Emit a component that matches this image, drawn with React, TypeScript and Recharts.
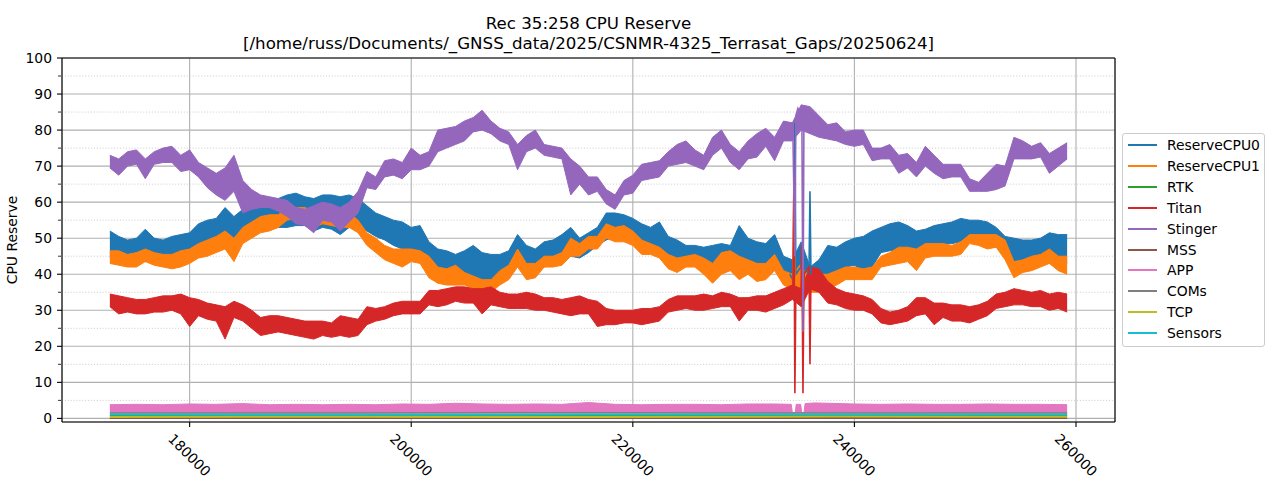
import React from 'react';
import { ComposedChart, Area, Line, XAxis, YAxis, CartesianGrid } from 'recharts';

const FONT = '"DejaVu Sans", "Liberation Sans", sans-serif';

const seriesNames = ['ReserveCPU0', 'ReserveCPU1', 'RTK', 'Titan', 'Stinger', 'MSS', 'APP', 'COMs', 'TCP', 'Sensors'];
const seriesColors = ['#1f77b4', '#ff7f0e', '#2ca02c', '#d62728', '#9467bd', '#8c564b', '#e377c2', '#7f7f7f', '#bcbd22', '#17becf'];

const titleLines = ['Rec 35:258 CPU Reserve', '[/home/russ/Documents/_GNSS_data/2025/CSNMR-4325_Terrasat_Gaps/20250624]'];
const yLabel = 'CPU Reserve';

const xTicks = [180000, 200000, 220000, 240000, 260000];
const yTicks = [0, 10, 20, 30, 40, 50, 60, 70, 80, 90, 100];
const yMinorTicks = [5, 15, 25, 35, 45, 55, 65, 75, 85, 95];

// sample grid of the noisy series (seconds of week)
const sampleStart = 172800;
const sampleStep = 800;

const cpu0Low = [
  44.5, 44, 44.5, 44, 43.5, 44, 43.5, 44, 43.5, 45,
  46, 47, 47.5, 48, 46, 50, 51, 52, 52.5, 53,
  53, 53.5, 53.5, 52, 53, 52.5, 51, 53, 53, 52,
  50.5, 49.5, 48, 47, 47, 46.5, 43, 40.5, 40, 40,
  39.5, 39, 38.5, 38, 39, 39.5, 44, 41, 41, 42,
  43, 43, 45, 44.5, 46, 48, 49.5, 50.5, 50, 49,
  47.5, 47, 46, 44, 43, 43, 42.5, 42, 42, 41,
  42, 43, 42, 41.5, 41, 42, 38, 37, 36, 35,
  36, 40, 41, 42, 42.5, 41, 42, 46, 46.5, 47,
  46.5, 46, 47, 48, 48.5, 48.5, 49, 49, 49, 49,
  47.5, 45, 42, 43, 43, 43, 43, 42, 43,
];
const cpu0High = [
  52, 50.5, 49.5, 50, 52.5, 50, 49.5, 50.5, 51, 51.5,
  54, 55, 55.5, 58.5, 56, 58, 60, 59.5, 60.5, 61,
  62, 62.5, 61.5, 61, 62, 62, 61.5, 62, 61, 59,
  57, 56, 55, 54.5, 53, 53.5, 49, 47, 46.5, 45.5,
  46.5, 48, 46, 45.5, 45.5, 46.5, 51, 48, 47, 49,
  49.5, 51, 53, 50, 51.5, 53, 57, 57, 56.5, 55.5,
  54, 53, 54.5, 50.5, 49.5, 48, 48, 47.5, 48, 48.5,
  48, 53.5, 50, 49, 48.5, 51, 45, 44, 49, 42,
  44, 48, 47.5, 49, 50, 50.5, 52, 53, 54, 54.5,
  53.5, 52, 52.5, 53.5, 54, 54.5, 55.5, 55, 55, 54.5,
  53, 50.5, 50, 49.5, 49.5, 50, 51.5, 51, 51,
];
const cpu1Low = [
  43, 42.5, 42, 42, 43.5, 42.5, 42, 41.5, 42, 43,
  44.5, 45, 46, 47, 43.5, 48.5, 50, 51.5, 52, 53,
  55, 55.5, 55.5, 53, 54, 53.5, 53, 53, 51.5, 48,
  46, 44, 43, 42, 43.5, 43, 39, 37.5, 37, 37,
  37, 36, 35.5, 35, 37, 38.5, 42, 38.5, 39, 42,
  42, 42.5, 45, 45, 47, 47, 50, 49, 49, 48,
  45.5, 45.5, 44.5, 41.5, 40.5, 42, 42, 40, 37.5, 40,
  41, 38.5, 40, 38, 38.5, 41, 37, 36, 34, 35,
  35, 36, 37, 38.5, 38.5, 38.5, 38.5, 42, 42.5, 43,
  43.5, 41, 44.5, 45, 45, 45, 45.5, 48.5, 48, 47,
  47.5, 44, 39, 40.5, 41, 42, 43, 41, 40,
];
const cpu1High = [
  46.5, 46.5, 45.5, 46, 47, 46, 45.5, 45.5, 46.5, 47,
  48.5, 49.5, 50.5, 52, 50, 53, 54.5, 56, 56.5, 56.5,
  58.5, 58.5, 58.5, 57.5, 57.5, 57.5, 57, 57, 55, 51.5,
  50, 48, 47, 47, 47, 46.5, 45, 42, 41.5, 42.5,
  40.5, 39.5, 38.5, 38.5, 41, 42.5, 47, 43, 43, 45,
  45, 46, 50, 48.5, 50.5, 50.5, 54, 53, 53.5, 52,
  49.5, 48.5, 47.5, 45.5, 44.5, 45, 45.5, 44.5, 43, 46,
  46.5, 45, 44, 43, 43, 45.5, 41, 40, 43, 40,
  40, 40, 41, 42, 42, 41.5, 42, 45, 46, 47.5,
  47.5, 47, 48.5, 48.5, 48.5, 48, 49, 51, 51, 51,
  51, 49.5, 43.5, 44, 45, 45.5, 47, 45, 45,
];
const titanLow = [
  31, 29, 29.5, 29, 29, 29.5, 29.5, 30, 29, 25.5,
  28.5, 27.5, 27, 22, 28, 27, 25, 23, 23.5, 24,
  23.5, 23, 22.5, 22, 23, 22.5, 23, 22.5, 23, 26,
  27, 27.5, 28.5, 29, 29, 29, 31.5, 31, 31.5, 32.5,
  32, 32, 29, 31.5, 31, 30.5, 30.5, 30.5, 30, 30,
  29.5, 29, 28.5, 29, 29, 25.5, 26, 26, 26.5, 26.5,
  26, 26.5, 27, 29.5, 30, 30.5, 30, 30, 30.5, 31,
  31, 27, 30, 30, 29.5, 30.5, 31.5, 33, 31, 36,
  35, 32, 31.5, 30.5, 30, 30, 29, 26.5, 26, 26.5,
  27, 28.5, 29, 26, 28, 27, 27, 26.5, 27.5, 28.5,
  30.5, 31, 31.5, 31.5, 31, 31, 30, 30.5, 29.5,
];
const titanHigh = [
  34.5, 34, 33.5, 33, 33, 33.5, 34, 34, 34.5, 33.5,
  33, 32, 31.5, 31, 32.5, 31.5, 30, 28, 28.5, 28.5,
  28, 27.5, 27, 27, 27, 26.5, 28.5, 28, 27.5, 31,
  30.5, 31, 32, 32.5, 32.5, 32.5, 35.5, 35.5, 36, 36.5,
  36.5, 36, 36, 36.5, 35, 34.5, 34.5, 35, 34.5, 33.5,
  33.5, 33, 33.5, 34, 33, 32.5, 30.5, 30, 30, 30,
  30.5, 30.5, 31, 33, 34, 34, 34, 34.5, 34, 35,
  34.5, 33.5, 33.5, 34, 34, 35, 36, 37, 36, 42,
  41.5, 38, 36, 35, 34.5, 34, 33, 30.5, 29.5, 30,
  31, 33.5, 33.5, 32, 32, 31.5, 31.5, 31, 31.5, 32.5,
  34.5, 35, 36, 35.5, 35, 35.5, 34.5, 35, 34.5,
];
const stingerLow = [
  69.5, 67.5, 70, 70.5, 66.5, 70.5, 71, 71, 68.5, 69,
  67, 64, 62, 60.5, 63, 57, 58, 58.5, 58.5, 57.5,
  56, 54, 53.5, 51.5, 55, 54.5, 52, 54.5, 57, 64,
  63.5, 67, 67.5, 66.5, 69, 69, 70, 74, 75, 76,
  77, 79.5, 80, 79, 77, 76, 69, 74, 75, 73,
  72.5, 72, 62, 65, 62, 63, 59.5, 58, 62, 62.5,
  66, 66.5, 67, 70, 70.5, 71, 70, 69, 73, 75,
  71, 69, 72, 72.5, 75.5, 71.5, 77, 77, 80, 79,
  78, 77.5, 77, 76, 75.5, 76, 71.5, 72, 72, 68,
  69.5, 67, 70, 68, 66.5, 67, 67, 63, 63, 63,
  63.5, 64.5, 72, 72, 72, 72.5, 68, 70, 72,
];
const stingerHigh = [
  73, 72, 74, 74.5, 72, 74, 75, 75.5, 73, 74.5,
  71, 69.5, 68, 69.5, 73, 66, 63.5, 62, 61.5, 61,
  60.5, 58.5, 58, 59, 60, 59.5, 58.5, 60, 63, 68.5,
  67, 71.5, 72, 71, 75, 73, 74, 80, 80.5, 81,
  82.5, 83.5, 85.5, 82.5, 80.5, 79.5, 76, 78.5, 80, 76,
  75.5, 75, 72, 70, 67, 67, 63.5, 62, 66, 67.5,
  70.5, 71, 71.5, 74, 76, 77, 74.5, 73, 78, 80,
  76, 74, 77, 79, 80.5, 78, 82.5, 82, 87, 86.5,
  84, 81.5, 82, 79.5, 80, 80, 75, 75, 76, 73,
  73.5, 71, 75.5, 73, 70.5, 70.5, 70.5, 66.5, 65.5, 68,
  70.5, 70, 78, 77, 75.5, 76.5, 73.5, 75, 76.5,
];

// excursions around the disturbance near 235000
const cpu0SpikeT = [234174, 234535, 234626, 234716, 235167, 235257, 235357, 235447, 235899, 235990, 236080];
const cpu0SpikeV = [40, 38, 82, 40, 42, 47, 25, 42, 40, 63, 40];
const cpu1SpikeT = [234445, 234535, 234626, 235257, 235357, 235447];
const cpu1SpikeV = [38, 63, 37, 40, 31, 39];
const titanSpikeT = [234445, 234535, 234626, 234716, 235167, 235257, 235357, 235447, 235899, 235990, 236080];
const titanSpikeV = [35, 66, 7, 36, 34, 48, 7, 40, 42, 15, 40];
const stingerSpikeT = [234445, 234626, 234716, 234900, 235257, 235357, 235447];
const stingerSpikeV = [80, 45, 84, 86, 84, 24, 85];

// low-level series
const appT = [
  172800, 175200, 177600, 180000, 182400, 184800, 187200, 189600, 192000, 194400,
  196800, 199200, 201600, 204000, 206400, 208800, 211200, 213600, 216000, 218400,
  220800, 223200, 225600, 228000, 230400, 232800, 234300, 234400, 234650, 234750,
  235150, 235250, 235450, 235550, 236400, 237600, 240000, 242400, 244800, 247200,
  249600, 252000, 254400, 256800, 259200,
];
const appHigh = [
  3.8, 3.9, 3.8, 4.0, 3.9, 4.1, 3.8, 3.9, 3.8, 3.9,
  3.8, 4.0, 3.9, 4.2, 4.0, 3.9, 4.0, 3.9, 4.4, 3.9,
  3.8, 3.9, 3.9, 3.8, 4.0, 4.0, 3.9, 1.6, 1.6, 3.9,
  3.9, 1.6, 1.6, 4.1, 4.3, 4.2, 4.0, 3.9, 4.0, 3.9,
  3.9, 4.0, 3.9, 3.9, 3.8,
];
const appLow = [
  1.5, 1.5, 1.5, 1.5, 1.5, 1.5, 1.5, 1.5, 1.5, 1.5,
  1.5, 1.5, 1.5, 1.5, 1.5, 1.5, 1.5, 1.5, 1.5, 1.5,
  1.5, 1.5, 1.5, 1.5, 1.5, 1.5, 1.5, 1.4, 1.4, 1.5,
  1.5, 1.4, 1.4, 1.5, 1.5, 1.5, 1.5, 1.5, 1.5, 1.5,
  1.5, 1.5, 1.5, 1.5, 1.5,
];
const lowT = [172800, 194400, 216000, 237600, 259200];
const rtkV = [0.7, 0.7, 0.7, 0.7, 0.7];
const mssV = [0.1, 0.1, 0.1, 0.1, 0.1];
const comsV = [1.5, 1.5, 1.55, 1.5, 1.5];
const tcpV = [0.4, 0.45, 0.4, 0.5, 0.45];
const sensorsV = [1.05, 1.0, 1.05, 1.1, 1.05];

const mainData = cpu0Low.map((_, i) => ({
  t: sampleStart + i * sampleStep,
  cpu0: [cpu0Low[i], cpu0High[i]],
  cpu1: [cpu1Low[i], cpu1High[i]],
  titan: [titanLow[i], titanHigh[i]],
  stinger: [stingerLow[i], stingerHigh[i]],
}));

const pairs = (ts: number[], vs: number[]) => ts.map((t, i) => ({ t, v: vs[i] }));
const appData = appT.map((t, i) => ({ t, v: [appLow[i], appHigh[i]] }));

const X_DOMAIN: [number, number] = [168480, 263520];
const Y_DOMAIN: [number, number] = [-1, 100];

const EmptyTick = () => <g />;

const XTick = (props: any) => {
  const { x, y, payload } = props;
  return (
    <text
      transform={`translate(${x},${y + 26}) rotate(45)`}
      textAnchor="middle"
      dominantBaseline="central"
      fontSize={13.9}
      fontFamily={FONT}
      fill="#000"
    >
      {payload.value}
    </text>
  );
};

const bandProps = (color: string) => ({
  type: 'linear' as const,
  stroke: color,
  strokeWidth: 1,
  fill: color,
  fillOpacity: 1,
  isAnimationActive: false,
  dot: false,
  activeDot: false,
});

const lineProps = (color: string, w = 1.6) => ({
  type: 'linear' as const,
  stroke: color,
  strokeWidth: w,
  isAnimationActive: false,
  dot: false,
  activeDot: false,
  dataKey: 'v',
});

export default function App() {
  return (
    <div style={{ position: 'absolute', left: 0, top: 0, width: 1280, height: 480, background: '#fff', fontFamily: FONT }}>
      {titleLines.map((line, i) => (
        <div
          key={i}
          style={{
            position: 'absolute',
            left: 88.5,
            width: 1000,
            top: 13.5 + i * 20.7,
            textAlign: 'center',
            fontSize: 16.67,
            lineHeight: '20px',
            color: '#000',
            whiteSpace: 'nowrap',
          }}
        >
          {line}
        </div>
      ))}
      <div
        style={{
          position: 'absolute',
          left: 12,
          top: 240,
          transform: 'translate(-50%, -50%) rotate(-90deg)',
          fontSize: 13.9,
          whiteSpace: 'nowrap',
          color: '#000',
        }}
      >
        {yLabel}
      </div>
      <ComposedChart
        width={1280}
        height={480}
        data={mainData}
        margin={{ top: 57, right: 164, bottom: 57, left: 60 }}
      >
        <CartesianGrid stroke="#b0b0b0" strokeWidth={1.1} />
        <CartesianGrid yAxisId="minor" vertical={false} stroke="#cfcfcf" strokeWidth={1} strokeDasharray="1.1 1.8" />
        <XAxis
          dataKey="t"
          type="number"
          domain={X_DOMAIN}
          ticks={xTicks}
          interval={0}
          allowDataOverflow
          height={1}
          tickSize={5}
          tickMargin={2}
          axisLine={{ stroke: '#000', strokeWidth: 1.1 }}
          tickLine={{ stroke: '#000', strokeWidth: 1.1 }}
          tick={<XTick />}
        />
        <XAxis
          xAxisId="top"
          orientation="top"
          type="number"
          domain={X_DOMAIN}
          allowDataOverflow
          height={1}
          tick={false}
          tickLine={false}
          axisLine={{ stroke: '#000', strokeWidth: 1.1 }}
        />
        <YAxis
          type="number"
          domain={Y_DOMAIN}
          ticks={yTicks}
          interval={0}
          allowDataOverflow
          width={1}
          tickSize={5}
          tickMargin={5}
          axisLine={{ stroke: '#000', strokeWidth: 1.1 }}
          tickLine={{ stroke: '#000', strokeWidth: 1.1 }}
          tick={{ fill: '#000', fontSize: 13.9, fontFamily: FONT }}
        />
        <YAxis
          yAxisId="minor"
          type="number"
          domain={Y_DOMAIN}
          ticks={yMinorTicks}
          interval={0}
          allowDataOverflow
          width={1}
          tickSize={3}
          axisLine={false}
          tickLine={{ stroke: '#000', strokeWidth: 0.8 }}
          tick={EmptyTick}
        />
        <YAxis
          yAxisId="right"
          orientation="right"
          type="number"
          domain={Y_DOMAIN}
          allowDataOverflow
          width={1}
          tick={false}
          tickLine={false}
          axisLine={{ stroke: '#000', strokeWidth: 1.1 }}
        />

        <Area dataKey="cpu0" {...bandProps(seriesColors[0])} />
        <Line data={pairs(cpu0SpikeT, cpu0SpikeV)} {...lineProps(seriesColors[0])} />
        <Area dataKey="cpu1" {...bandProps(seriesColors[1])} />
        <Line data={pairs(cpu1SpikeT, cpu1SpikeV)} {...lineProps(seriesColors[1])} />
        <Line data={pairs(lowT, rtkV)} {...lineProps(seriesColors[2], 2)} />
        <Area dataKey="titan" {...bandProps(seriesColors[3])} />
        <Line data={pairs(titanSpikeT, titanSpikeV)} {...lineProps(seriesColors[3])} />
        <Area dataKey="stinger" {...bandProps(seriesColors[4])} />
        <Line data={pairs(stingerSpikeT, stingerSpikeV)} {...lineProps(seriesColors[4])} />
        <Line data={pairs(lowT, mssV)} {...lineProps(seriesColors[5], 2)} />
        <Area data={appData} dataKey="v" {...bandProps(seriesColors[6])} />
        <Line data={pairs(lowT, comsV)} {...lineProps(seriesColors[7], 1.5)} />
        <Line data={pairs(lowT, tcpV)} {...lineProps(seriesColors[8], 2)} />
        <Line data={pairs(lowT, sensorsV)} {...lineProps(seriesColors[9], 2)} />
      </ComposedChart>

      <div
        style={{
          position: 'absolute',
          left: 1122,
          top: 133,
          width: 141,
          height: 212,
          border: '1px solid #cccccc',
          borderRadius: 3,
          background: 'rgba(255,255,255,0.8)',
        }}
      >
        {seriesNames.map((name, i) => (
          <div
            key={name}
            style={{
              position: 'absolute',
              left: 0,
              top: 1 + i * 20.9,
              height: 20,
              width: 141,
            }}
          >
            <div
              style={{
                position: 'absolute',
                left: 5,
                top: 9,
                width: 29,
                height: 0,
                borderTop: `2px solid ${seriesColors[i]}`,
              }}
            />
            <div
              style={{
                position: 'absolute',
                left: 44,
                top: 0,
                lineHeight: '20px',
                fontSize: 13.9,
                color: '#000',
                whiteSpace: 'nowrap',
              }}
            >
              {name}
            </div>
          </div>
        ))}
      </div>
    </div>
  );
}
